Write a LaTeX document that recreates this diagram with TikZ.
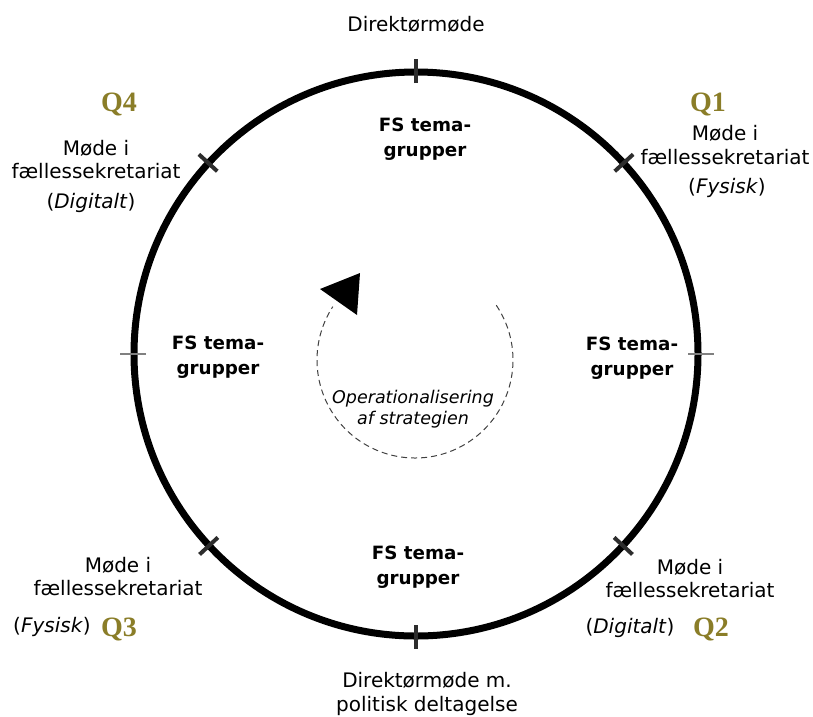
\documentclass[tikz,border=0pt]{standalone}
\usepackage{fontspec}
\setmainfont{DejaVu Sans}
\newfontfamily\qfont{Liberation Serif}
\usetikzlibrary{calc}
\definecolor{qcol}{RGB}{138,125,40}
\definecolor{tickgray}{RGB}{45,45,45}
\tikzset{
  lbl/.style={font=\fontsize{20}{23.5}\selectfont, align=center, inner sep=0pt},
  fsbox/.style={font=\fontsize{18.3}{24.5}\selectfont\bfseries, align=center, inner sep=0pt},
  qlbl/.style={font=\qfont\bfseries\fontsize{28}{28}\selectfont, text=qcol, inner sep=0pt},
  innerlbl/.style={font=\fontsize{17.5}{21}\selectfont\itshape, align=center, inner sep=0pt},
  bigtick/.style={draw=tickgray, line width=4pt},
  sidetick/.style={draw=gray, line width=1.5pt},
  ring/.style={draw=black, line width=7pt},
  dashring/.style={draw=black!75, line width=1pt, dash pattern=on 6pt off 4pt}
}
\begin{document}
\begin{tikzpicture}[x=1pt,y=-1pt]
\useasboundingbox (0,0) rectangle (813,716);
% main ring
\coordinate (c) at (416,354);
\draw[ring] (c) circle[radius=282];
% ticks
\draw[bigtick] ($(c)+(-90:271)$) -- ($(c)+(-90:295)$);
\draw[bigtick] ($(c)+(90:271)$) -- ($(c)+(90:295)$);
\draw[bigtick] ($(c)+(-42.6:270)$) -- ($(c)+(-42.6:295)$);
\draw[bigtick] ($(c)+(-137.4:270)$) -- ($(c)+(-137.4:295)$);
\draw[bigtick] ($(c)+(42.8:270)$) -- ($(c)+(42.8:295)$);
\draw[bigtick] ($(c)+(137.2:270)$) -- ($(c)+(137.2:295)$);
\draw[sidetick] ($(c)+(180:270)$) -- ($(c)+(180:296)$);
\draw[sidetick] ($(c)+(0:272)$) -- ($(c)+(0:298)$);
% inner dashed cycle
\coordinate (ic) at (415,360);
\draw[dashring] ($(ic)+(-34:98)$) arc[start angle=-34, end angle=213, radius=98];
\fill[black] (320,289) -- (360,273) -- (357,315) -- cycle;
\node[innerlbl] (ops) at (413,409) {Operationalisering\\af strategien};
% FS groups
\node[fsbox] (fstop) at (425,139) {FS tema-\\grupper};
\node[fsbox] (fsleft) at (218,357) {FS tema-\\grupper};
\node[fsbox] (fsright) at (632,358) {FS tema-\\grupper};
\node[fsbox] (fsbottom) at (418,567) {FS tema-\\grupper};
% top / bottom
\node[lbl] (dtop) at (416,24) {Direktørmøde};
\node[lbl] (dbot) at (427,694) {Direktørmøde m.\\politisk deltagelse};
% Q1
\node[qlbl] (q1) at (708,104) {Q1};
\node[lbl] (m1) at (725,145) {Møde i\\fællessekretariat};
\node[lbl] (t1) at (727,188) {(\textit{Fysisk})};
% Q2
\node[qlbl] (q2) at (711,629) {Q2};
\node[lbl] (m2) at (690,578.5) {Møde i\\fællessekretariat};
\node[lbl] (t2) at (630,628) {(\textit{Digitalt})};
% Q3
\node[qlbl] (q3) at (119,629) {Q3};
\node[lbl] (m3) at (118,576.5) {Møde i\\fællessekretariat};
\node[lbl] (t3) at (52,627) {(\textit{Fysisk})};
% Q4
\node[qlbl] (q4) at (119,104) {Q4};
\node[lbl] (m4) at (96,159.5) {Møde i\\fællessekretariat};
\node[lbl] (t4) at (91,203) {(\textit{Digitalt})};
\end{tikzpicture}
\end{document}
